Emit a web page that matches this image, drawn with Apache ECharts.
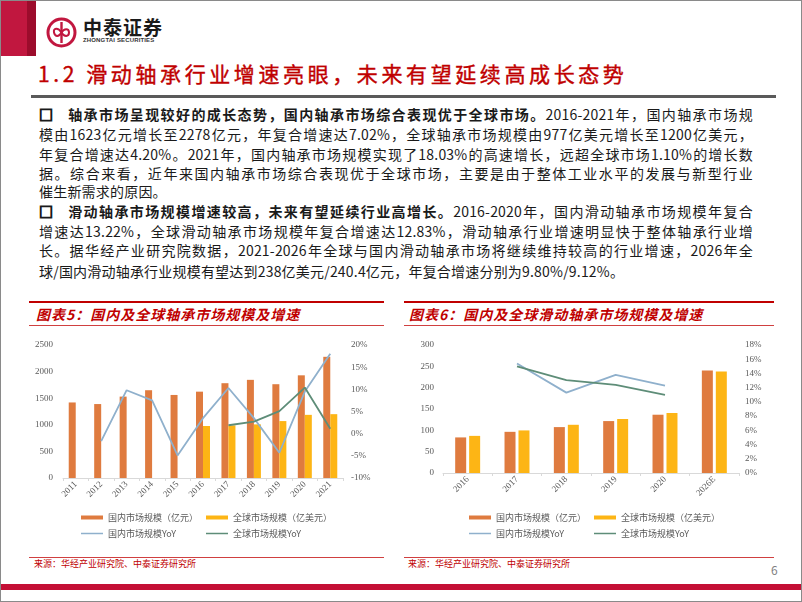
<!DOCTYPE html>
<html>
<head>
<meta charset="utf-8">
<script src="https://cdn.jsdelivr.net/npm/echarts@6/dist/echarts.min.js"></script>
<style>
html,body{margin:0;padding:0;background:#fff;}
#slide{position:relative;width:802px;height:602px;overflow:hidden;background:#fff;box-sizing:border-box;border:1px solid #8a8a8a;font-family:"Noto Sans CJK SC","Noto Sans",sans-serif;}
.abs{position:absolute;}
.line{position:absolute;left:38px;width:714px;font-size:14px;line-height:20px;height:20px;color:#1a1a1a;white-space:nowrap;letter-spacing:0.2px;}
.just{text-align:justify;text-align-last:justify;white-space:normal;}
.bul{display:inline-block;width:28px;font-weight:bold;-webkit-text-stroke:1.2px #1a1a1a;}
b{font-weight:bold;}
#chart{position:absolute;left:0;top:0;width:802px;height:602px;}
</style>
</head>
<body>
<div id="slide">
  <div class="abs" style="left:0;top:0;width:26px;height:55px;background:#c1173f;"></div>
  <div class="abs" style="left:26px;top:0;width:9px;height:55px;background:#9c0c2c;"></div>
  <svg class="abs" style="left:45px;top:16px;" width="31" height="31" viewBox="0 0 31 31">
    <circle cx="15.5" cy="15.5" r="13.5" fill="none" stroke="#c1173f" stroke-width="3"/>
    <path d="M15.5 5 L15.5 26" stroke="#c1173f" stroke-width="2.4" fill="none"/>
    <path d="M15.5 15.5 C12 10, 7 11, 8 15.5 C9 20, 13 20, 15.5 15.5 C18 11, 23 11, 23 15.5 C23 20, 18 20, 15.5 15.5" stroke="#c1173f" stroke-width="2" fill="none"/>
  </svg>
  <div class="abs" style="left:82px;top:14px;font-size:19px;font-weight:bold;letter-spacing:1px;color:#1a1a1a;line-height:24px;">中泰证券</div>
  <div class="abs" style="left:82px;top:36px;font-size:6px;font-weight:bold;color:#333;line-height:7px;font-family:'Liberation Sans',sans-serif;letter-spacing:0.15px;">ZHONGTAI SECURITIES</div>

  <div class="abs" style="left:37px;top:58px;font-size:21px;line-height:28px;letter-spacing:3.6px;color:#c00000;font-weight:normal;-webkit-text-stroke:0.4px #c00000;white-space:nowrap;">1.2 滑动轴承行业增速亮眼，未来有望延续高成长态势</div>
  <div class="abs" style="left:30px;top:94px;width:745px;height:3px;background:#5a5a5a;"></div>

  <div class="line just" style="top:103px;"><span class="bul">□</span><b>轴承市场呈现较好的成长态势，国内轴承市场综合表现优于全球市场。</b>2016-2021年，国内轴承市场规</div>
  <div class="line just" style="top:123px;">模由1623亿元增长至2278亿元，年复合增速达7.02%，全球轴承市场规模由977亿美元增长至1200亿美元，</div>
  <div class="line just" style="top:143px;">年复合增速达4.20%。2021年，国内轴承市场规模实现了18.03%的高速增长，远超全球市场1.10%的增长数</div>
  <div class="line just" style="top:162px;">据。综合来看，近年来国内轴承市场综合表现优于全球市场，主要是由于整体工业水平的发展与新型行业</div>
  <div class="line" style="top:180px;">催生新需求的原因。</div>
  <div class="line just" style="top:200px;"><span class="bul">□</span><b>滑动轴承市场规模增速较高，未来有望延续行业高增长。</b>2016-2020年，国内滑动轴承市场规模年复合</div>
  <div class="line just" style="top:220px;">增速达13.22%，全球滑动轴承市场规模年复合增速达12.83%，滑动轴承行业增速明显快于整体轴承行业增</div>
  <div class="line just" style="top:239px;">长。据华经产业研究院数据，2021-2026年全球与国内滑动轴承市场将继续维持较高的行业增速，2026年全</div>
  <div class="line" style="top:260px;">球/国内滑动轴承行业规模有望达到238亿美元/240.4亿元，年复合增速分别为9.80%/9.12%。</div>

  <div class="abs" style="left:28px;top:300px;width:355px;height:2px;background:#c00000;"></div>
  <div class="abs" style="left:403px;top:300px;width:370px;height:2px;background:#c00000;"></div>
  <div class="abs" style="left:35px;top:303px;font-size:14px;line-height:20px;font-weight:bold;font-style:italic;letter-spacing:1px;color:#c00000;white-space:nowrap;">图表5：国内及全球轴承市场规模及增速</div>
  <div class="abs" style="left:408px;top:303px;font-size:14px;line-height:20px;font-weight:bold;font-style:italic;letter-spacing:1px;color:#c00000;white-space:nowrap;">图表6：国内及全球滑动轴承市场规模及增速</div>
  <div class="abs" style="left:28px;top:324px;width:355px;height:1px;background:#d04040;"></div>
  <div class="abs" style="left:403px;top:324px;width:370px;height:1px;background:#d04040;"></div>

  <div class="abs" style="left:28px;top:556px;width:355px;height:1px;background:#d04040;"></div>
  <div class="abs" style="left:403px;top:556px;width:370px;height:1px;background:#d04040;"></div>
  <div class="abs" style="left:33px;top:557px;font-size:9px;line-height:12px;color:#c00000;white-space:nowrap;">来源：华经产业研究院、中泰证券研究所</div>
  <div class="abs" style="left:407px;top:557px;font-size:9px;line-height:12px;color:#c00000;white-space:nowrap;">来源：华经产业研究院、中泰证券研究所</div>
  <div class="abs" style="left:770px;top:562px;font-size:12px;line-height:14px;color:#7f7f7f;">6</div>
  <div class="abs" style="left:0;top:583px;width:802px;height:6px;background:#c40f35;"></div>

  <div id="chart"></div>
</div>
<script>
// Chart 5 data
const years5 = ['2011','2012','2013','2014','2015','2016','2017','2018','2019','2020','2021'];
const domestic5 = [1420, 1390, 1530, 1650, 1561, 1623, 1782, 1845, 1763, 1930, 2278];
const global5 = [null, null, null, null, null, 977, 989, 1008, 1070, 1187, 1200];
const domesticYoY5 = [null, -1.7, 9.8, 7.5, -4.9, 3.5, 10.3, 3.5, -4.3, 9.5, 18.03];
const globalYoY5 = [null, null, null, null, null, null, 1.9, 2.7, 5.1, 10.4, 1.1];
// Chart 6 data
const years6 = ['2016','2017','2018','2019','2020','2026E'];
const domestic6 = [83.4, 96.5, 107.6, 121.7, 136.6, 240.4];
const global6 = [87, 99.8, 113, 126.5, 140.6, 238];
const domesticYoY6 = [null, 15.4, 11.3, 13.8, 12.3, null];
const globalYoY6 = [null, 15.0, 13.05, 12.4, 11.0, null];
// Legend names
const legendNames = ['国内市场规模（亿元）','全球市场规模（亿美元）','国内市场规模YoY','全球市场规模YoY'];

const C_DOM = '#df7b3f', C_GLOB = '#fdb515', C_LDOM = '#8fb0cc', C_LGLOB = '#5e8d78';
const serif = '"Liberation Serif","DejaVu Serif",serif';
const cjk = '"Noto Sans CJK SC","Noto Sans",sans-serif';
const axisLbl = {color:'#595959', fontSize:9, fontFamily:serif};

function xAxis(gi, data){
  return {type:'category', gridIndex:gi, data:data,
    axisLine:{lineStyle:{color:'#d9d9d9'}},
    axisTick:{show:true, length:3, lineStyle:{color:'#d9d9d9'}},
    axisLabel:Object.assign({rotate:45, margin:5, interval:0}, axisLbl)};
}
function yAxis(gi, min, max, interval, pos, suffix, margin){
  return {type:'value', gridIndex:gi, min:min, max:max, interval:interval, position:pos,
    splitLine:{show:false}, axisLine:{show:false}, axisTick:{show:false},
    axisLabel:Object.assign({formatter:function(v){return String(v) + suffix;}, margin:margin}, axisLbl)};
}
function leg(name, left, top, isBar){
  return {data:[{name:name, icon:'rect'}], left:left, top:top, itemWidth:22, itemHeight:isBar?4:1.5, itemGap:0,
    textStyle:{color:'#595959', fontSize:9, fontFamily:cjk}, padding:0, selectedMode:false};
}

const chart = echarts.init(document.getElementById('chart'), null, {renderer:'canvas'});
chart.setOption({
  animation:false,
  textStyle:{fontFamily:cjk},
  grid:[
    {left:62, right:460, top:344, bottom:125, containLabel:false},
    {left:442, right:64, top:344, bottom:130, containLabel:false}
  ],
  xAxis:[xAxis(0, years5), xAxis(1, years6)],
  yAxis:[
    yAxis(0, 0, 2500, 500, 'left', '', 10),
    yAxis(0, -10, 20, 5, 'right', '%', 8),
    yAxis(1, 0, 300, 50, 'left', '', 9),
    yAxis(1, 0, 18, 2, 'right', '%', 6)
  ],
  legend:[
    leg(legendNames[0], 80, 512, true),
    leg(legendNames[1], 205, 512, true),
    leg(legendNames[2], 80, 528, false),
    leg(legendNames[3], 205, 528, false),
    leg(legendNames[0], 468, 512, true),
    leg(legendNames[1], 593, 512, true),
    leg(legendNames[2], 468, 528, false),
    leg(legendNames[3], 593, 528, false)
  ],
  series:[
    {name:legendNames[0], type:'bar', xAxisIndex:0, yAxisIndex:0, data:domestic5, barWidth:7, barGap:'0%', itemStyle:{color:C_DOM}},
    {name:legendNames[1], type:'bar', xAxisIndex:0, yAxisIndex:0, data:global5, barWidth:7, barGap:'0%', itemStyle:{color:C_GLOB}},
    {name:legendNames[2], type:'line', xAxisIndex:0, yAxisIndex:1, data:domesticYoY5, symbol:'none', lineStyle:{color:C_LDOM, width:1.8}, itemStyle:{color:C_LDOM}},
    {name:legendNames[3], type:'line', xAxisIndex:0, yAxisIndex:1, data:globalYoY5, symbol:'none', lineStyle:{color:C_LGLOB, width:1.8}, itemStyle:{color:C_LGLOB}},
    {name:legendNames[0], type:'bar', xAxisIndex:1, yAxisIndex:2, data:domestic6, barWidth:11, barGap:'27%', itemStyle:{color:C_DOM}},
    {name:legendNames[1], type:'bar', xAxisIndex:1, yAxisIndex:2, data:global6, barWidth:11, barGap:'27%', itemStyle:{color:C_GLOB}},
    {name:legendNames[2], type:'line', xAxisIndex:1, yAxisIndex:3, data:domesticYoY6, symbol:'none', lineStyle:{color:C_LDOM, width:1.8}, itemStyle:{color:C_LDOM}},
    {name:legendNames[3], type:'line', xAxisIndex:1, yAxisIndex:3, data:globalYoY6, symbol:'none', lineStyle:{color:C_LGLOB, width:1.8}, itemStyle:{color:C_LGLOB}}
  ]
});
</script>
</body>
</html>
